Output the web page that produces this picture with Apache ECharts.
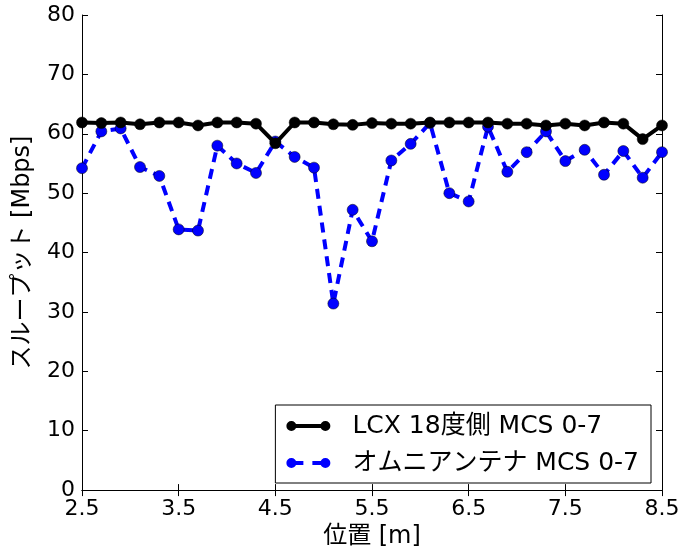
<!DOCTYPE html>
<html>
<head>
<meta charset="utf-8">
<script src="https://cdn.jsdelivr.net/npm/echarts@6/dist/echarts.min.js"></script>
<style>
  html, body { margin: 0; padding: 0; background: #fff; }
  #main { width: 683px; height: 554px; }
</style>
</head>
<body>
<div id="main"></div>
<script>
// 位置 [m]
var positions = [2.5, 2.7, 2.9, 3.1, 3.3, 3.5, 3.7, 3.9, 4.1, 4.3, 4.5, 4.7, 4.9, 5.1, 5.3, 5.5,
  5.7, 5.9, 6.1, 6.3, 6.5, 6.7, 6.9, 7.1, 7.3, 7.5, 7.7, 7.9, 8.1, 8.3, 8.5];
// LCX 18度側
var lcxValues = [61.9, 61.8, 61.9, 61.6, 61.9, 61.9, 61.4, 61.9, 61.9, 61.7, 58.4, 61.9, 61.9, 61.6, 61.5, 61.8,
  61.7, 61.7, 61.9, 61.9, 61.9, 61.9, 61.7, 61.7, 61.4, 61.7, 61.4, 61.9, 61.7, 59.1, 61.4];
// オムニアンテナ
var omniValues = [54.2, 60.4, 60.9, 54.4, 52.9, 43.9, 43.7, 58.0, 55.0, 53.4, 58.7, 56.1, 54.3, 31.4, 47.2, 41.9,
  55.5, 58.3, 61.8, 50.0, 48.6, 61.2, 53.6, 56.9, 60.4, 55.4, 57.3, 53.1, 57.1, 52.6, 56.9];
var seriesNames = ['LCX 18度側 MCS 0-7', 'オムニアンテナ MCS 0-7'];

function pairs(xs, ys) {
  return xs.map(function (x, i) { return [x, ys[i]]; });
}

var font = '"DejaVu Sans", "Noto Sans CJK JP", sans-serif';
// legend icons: marker - line - marker (44 x 12), all sub-paths clockwise
var dot = function (x) { return 'M' + x + ',6 a5,5 0 1,1 10,0 a5,5 0 1,1 -10,0 Z '; };
var bar = function (x0, x1) { return 'M' + x0 + ',4 L' + x1 + ',4 L' + x1 + ',8 L' + x0 + ',8 Z '; };
var solidIcon = 'path://' + dot(0) + bar(5, 39) + dot(34);
var dashIcon = 'path://' + dot(0) + bar(5, 17) + bar(26, 39) + dot(34);

var chart = echarts.init(document.getElementById('main'), null, { renderer: 'canvas' });

var tickStyle = { show: true, inside: true, length: 6, lineStyle: { color: '#000', width: 1 } };

var option = {
  backgroundColor: '#fff',
  animation: false,
  textStyle: { fontFamily: font },
  grid: { left: 82, top: 15, width: 580, height: 482, containLabel: false },
  legend: {
    data: [
      { name: seriesNames[0], icon: solidIcon },
      { name: seriesNames[1], icon: dashIcon }
    ],
    orient: 'vertical',
    right: 32,
    top: 405,
    itemWidth: 44,
    itemHeight: 12,
    itemGap: 9,
    padding: [7, 12, 6, 11],
    borderColor: '#000',
    borderWidth: 1,
    borderRadius: 0,
    backgroundColor: '#fff',
    itemStyle: { borderWidth: 0 },
    lineStyle: { width: 0 },
    textStyle: { fontSize: 25, lineHeight: 28, color: '#000', fontFamily: font, padding: [0, 0, 0, 17] }
  },
  xAxis: [{
    type: 'value',
    min: 2.5,
    max: 8.5,
    interval: 1,
    name: '位置 [m]',
    nameLocation: 'middle',
    nameGap: 32,
    nameTextStyle: { fontSize: 24, color: '#000', fontFamily: font },
    axisLine: { show: true, lineStyle: { color: '#000', width: 1 } },
    axisTick: tickStyle,
    axisLabel: { fontSize: 22, color: '#000', margin: 8, fontFamily: font },
    splitLine: { show: false }
  }, {
    type: 'value',
    position: 'top',
    min: 2.5,
    max: 8.5,
    interval: 1,
    axisLine: { show: true, lineStyle: { color: '#000', width: 1 } },
    axisTick: tickStyle,
    axisLabel: { show: false },
    splitLine: { show: false }
  }],
  yAxis: [{
    type: 'value',
    min: 0,
    max: 80,
    interval: 10,
    name: 'スループット [Mbps]',
    nameLocation: 'middle',
    nameGap: 47,
    nameTextStyle: { fontSize: 24, color: '#000', fontFamily: font },
    axisLine: { show: true, lineStyle: { color: '#000', width: 1 } },
    axisTick: tickStyle,
    axisLabel: { fontSize: 22, color: '#000', margin: 7, fontFamily: font },
    splitLine: { show: false }
  }, {
    type: 'value',
    position: 'right',
    min: 0,
    max: 80,
    interval: 10,
    axisLine: { show: true, lineStyle: { color: '#000', width: 1 } },
    axisTick: tickStyle,
    axisLabel: { show: false },
    splitLine: { show: false }
  }],
  series: [{
    name: seriesNames[1],
    type: 'line',
    data: pairs(positions, omniValues),
    symbol: 'circle',
    symbolSize: 11,
    z: 2,
    lineStyle: { color: '#0000ff', width: 4, type: [10, 7], cap: 'butt' },
    itemStyle: { color: '#0000ff', borderColor: '#000', borderWidth: 0.5 }
  }, {
    name: seriesNames[0],
    type: 'line',
    data: pairs(positions, lcxValues),
    symbol: 'circle',
    symbolSize: 11,
    z: 3,
    lineStyle: { color: '#000', width: 4 },
    itemStyle: { color: '#000', borderColor: '#000', borderWidth: 0.5 }
  }]
};

chart.setOption(option);
</script>
</body>
</html>
